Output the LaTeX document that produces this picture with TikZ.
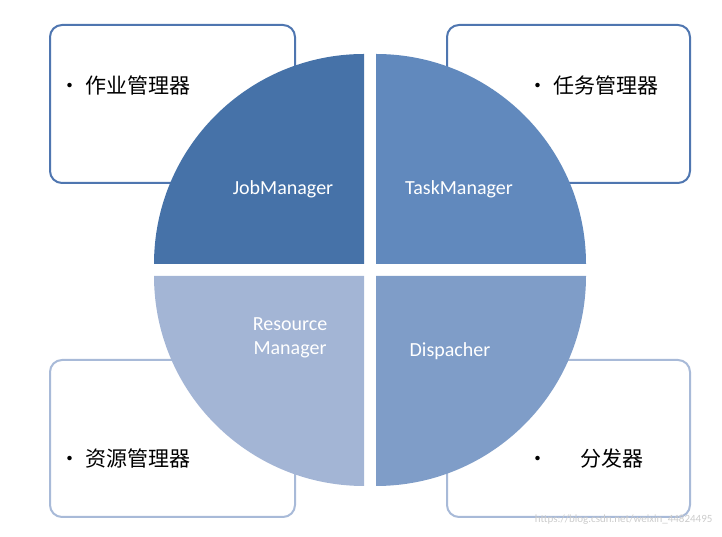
\documentclass[tikz,border=0pt]{standalone}
\usepackage{fontspec}
\setmainfont{Carlito}
\newfontfamily\cjk{Noto Sans CJK SC}
\definecolor{qjob}{HTML}{4672A8}
\definecolor{qtask}{HTML}{6189BD}
\definecolor{qres}{HTML}{A3B5D5}
\definecolor{qdis}{HTML}{7F9DC8}
\definecolor{edgedark}{HTML}{4F76B0}
\definecolor{edgelight}{HTML}{A8BAD8}
\tikzset{
  infobox/.style={draw=#1, line width=2pt, rounded corners=12pt, fill=white},
  quadtext/.style={text=white, font=\fontsize{20}{24}\selectfont, align=center},
  itemtext/.style={font=\cjk\fontsize{21}{24}\selectfont, anchor=west}
}
\begin{document}
\begin{tikzpicture}[x=1pt,y=1pt]
            \useasboundingbox (0,0) rectangle (722,537);
            % boxes behind the circle
            \draw[infobox=edgedark] (50,354) rectangle (295,512);
            \draw[infobox=edgedark] (447,354) rectangle (690,512);
            \draw[infobox=edgelight] (50,20) rectangle (295,177);
            \draw[infobox=edgelight] (447,20) rectangle (690,177);
            % quadrants
            \fill[qjob] (364,273) -- (154,273) arc (180:90:210) -- cycle;
            \fill[qtask] (376,273) -- (376,483) arc (90:0:210) -- cycle;
            \fill[qres] (364,261) -- (154,261) arc (180:270:210) -- cycle;
            \fill[qdis] (376,261) -- (586,261) arc (0:-90:210) -- cycle;
            \node[quadtext] (job) at (283,348) {JobManager};
            \node[quadtext] (task) at (459,348) {TaskManager};
            \node[quadtext, text height=14pt, text depth=4pt] (res) at (290,187) {Resource\\Manager};
            \node[quadtext] (dis) at (450,186) {Dispacher};
            \node[itemtext] (jobcn) at (56,452) {•\ 作业管理器};
            \node[itemtext] (taskcn) at (524,452) {•\ 任务管理器};
            \node[itemtext] (rescn) at (56,78) {•\ 资源管理器};
            \node[itemtext] (discn) at (524,78) {•\hspace{32pt}分发器};
            \node[text=gray!40, font=\fontsize{11}{12}\selectfont, anchor=east] (mark) at (716,17) {https://blog.csdn.net/weixin\_44824495};
        \end{tikzpicture}
\end{document}
